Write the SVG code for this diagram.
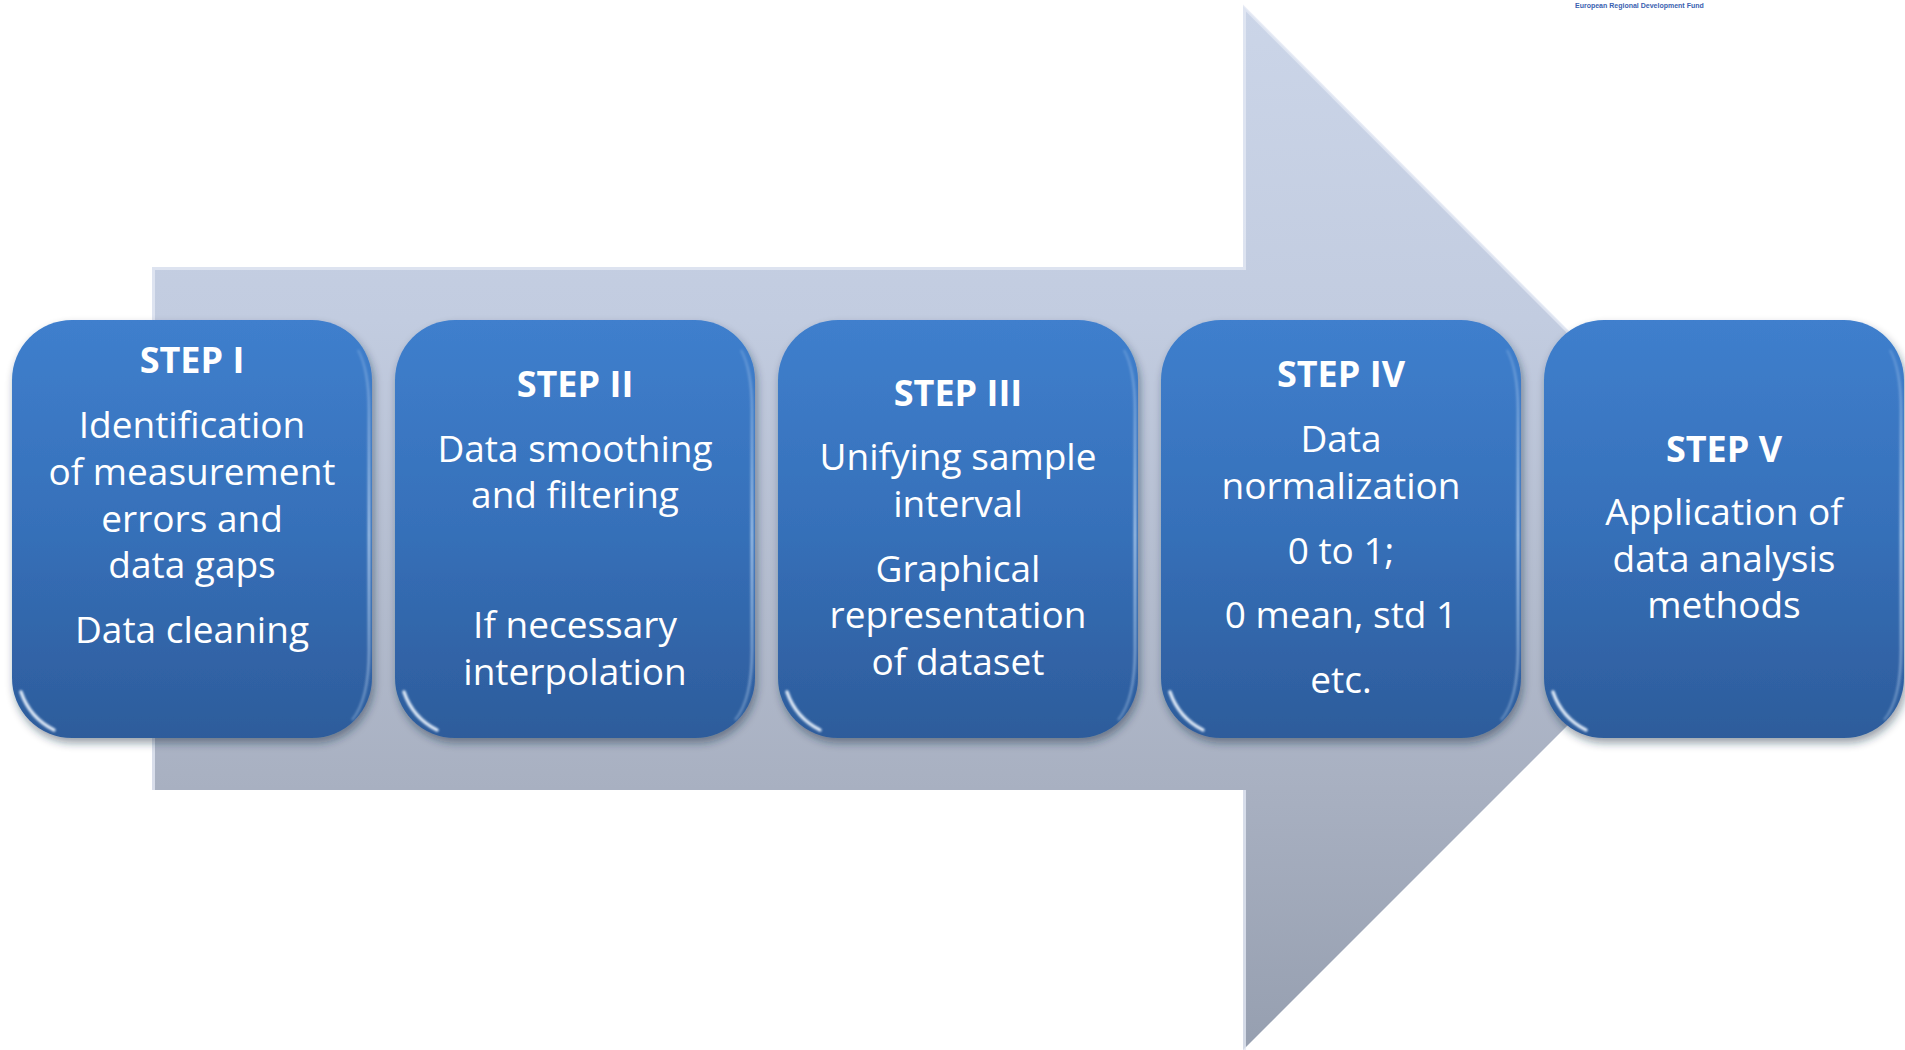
<svg xmlns="http://www.w3.org/2000/svg" width="1905" height="1050" viewBox="0 0 1905 1050">
  <defs>
    <linearGradient id="arrowGrad" gradientUnits="userSpaceOnUse" x1="0" y1="6" x2="0" y2="1050">
      <stop offset="0" stop-color="#cbd5e8"/>
      <stop offset="0.3" stop-color="#c2cce0"/>
      <stop offset="0.75" stop-color="#a8b0c1"/>
      <stop offset="1" stop-color="#969fb0"/>
    </linearGradient>
    <linearGradient id="boxGrad" x1="0" y1="0" x2="0" y2="1">
      <stop offset="0" stop-color="#3f7fcd"/>
      <stop offset="0.5" stop-color="#3670b9"/>
      <stop offset="1" stop-color="#2d5c9b"/>
    </linearGradient>
    <linearGradient id="topHi" x1="0" y1="0" x2="1" y2="0">
      <stop offset="0" stop-color="#a8cbf5" stop-opacity="0"/>
      <stop offset="0.15" stop-color="#a8cbf5" stop-opacity="0.8"/>
      <stop offset="0.85" stop-color="#a8cbf5" stop-opacity="0.8"/>
      <stop offset="1" stop-color="#a8cbf5" stop-opacity="0"/>
    </linearGradient>
    <linearGradient id="rightHi" x1="0" y1="0" x2="0" y2="1">
      <stop offset="0" stop-color="#cfe4fb" stop-opacity="0.2"/>
      <stop offset="0.5" stop-color="#cfe4fb" stop-opacity="0.8"/>
      <stop offset="1" stop-color="#cfe4fb" stop-opacity="0.3"/>
    </linearGradient>
    <filter id="shadow" x="-10%" y="-10%" width="125%" height="125%">
      <feDropShadow dx="2" dy="5" stdDeviation="4" flood-color="#1a2a40" flood-opacity="0.45"/>
    </filter>
    <filter id="soft" x="-20%" y="-20%" width="140%" height="140%">
      <feGaussianBlur stdDeviation="1.2"/>
    </filter>
    <style>
      .box { fill: url(#boxGrad); filter: url(#shadow); }
      .tophi { fill: none; stroke: url(#topHi); stroke-width: 4; filter: url(#soft); }
      .righthi { fill: none; stroke: url(#rightHi); stroke-width: 2.5; filter: url(#soft); }
      .glint { fill: none; stroke: #eef6ff; stroke-width: 3.5; stroke-linecap: round; opacity: 0.9; filter: url(#soft); }
      .title { font-family: "Open Sans", "Liberation Sans", sans-serif; font-weight: bold; font-size: 36px; fill: #ffffff; text-anchor: middle; }
      .body { font-family: "Open Sans", "Liberation Sans", sans-serif; font-size: 37px; fill: #ffffff; text-anchor: middle; }
      .bevel { fill: none; stroke: #e3e9f4; stroke-width: 3; opacity: 0.8; }
      .fund { font-family: "Liberation Sans", Arial, sans-serif; font-size: 7px; font-weight: bold; fill: #3a5fb0; }
    </style>
  </defs>

  <rect width="1905" height="1050" fill="#ffffff"/>

  <text class="fund" x="1575" y="8">European Regional Development Fund</text>

  <g id="connectors">
    <g id="process-arrow">
      <path d="M152,267 L1243,267 L1243,6 L1765,528 L1243,1050 L1243,790 L152,790 Z" fill="url(#arrowGrad)"/>
      <path class="bevel" d="M153.5,790 L153.5,268.5 L1244.5,268.5 L1244.5,8 L1764,528"/>
      <path class="bevel" d="M1244.5,790 L1244.5,1050" opacity="0.5"/>
    </g>
  </g>

  <g id="step1" transform="translate(12,320)">
    <rect class="box" x="0" y="0" width="360" height="418" rx="60" ry="60"/>
    <path class="tophi" d="M40,8 H320"/>
    <path class="righthi" d="M346,30 Q357,50 357,90 V330 Q357,380 340,400"/>
    <path class="glint" d="M9,372 Q18,398 42,410"/>
    <text class="title" x="180" y="53">STEP I</text>
    <text class="body" x="180" y="118">Identification</text>
    <text class="body" x="180" y="165">of measurement</text>
    <text class="body" x="180" y="212">errors and</text>
    <text class="body" x="180" y="258">data gaps</text>
    <text class="body" x="180" y="323">Data cleaning</text>
  </g>

  <g id="step2" transform="translate(395,320)">
    <rect class="box" x="0" y="0" width="360" height="418" rx="60" ry="60"/>
    <path class="tophi" d="M40,8 H320"/>
    <path class="righthi" d="M346,30 Q357,50 357,90 V330 Q357,380 340,400"/>
    <path class="glint" d="M9,372 Q18,398 42,410"/>
    <text class="title" x="180" y="77">STEP II</text>
    <text class="body" x="180" y="142">Data smoothing</text>
    <text class="body" x="180" y="188">and filtering</text>
    <text class="body" x="180" y="318">If necessary</text>
    <text class="body" x="180" y="365">interpolation</text>
  </g>

  <g id="step3" transform="translate(778,320)">
    <rect class="box" x="0" y="0" width="360" height="418" rx="60" ry="60"/>
    <path class="tophi" d="M40,8 H320"/>
    <path class="righthi" d="M346,30 Q357,50 357,90 V330 Q357,380 340,400"/>
    <path class="glint" d="M9,372 Q18,398 42,410"/>
    <text class="title" x="180" y="86">STEP III</text>
    <text class="body" x="180" y="150">Unifying sample</text>
    <text class="body" x="180" y="197">interval</text>
    <text class="body" x="180" y="262">Graphical</text>
    <text class="body" x="180" y="308">representation</text>
    <text class="body" x="180" y="355">of dataset</text>
  </g>

  <g id="step4" transform="translate(1161,320)">
    <rect class="box" x="0" y="0" width="360" height="418" rx="60" ry="60"/>
    <path class="tophi" d="M40,8 H320"/>
    <path class="righthi" d="M346,30 Q357,50 357,90 V330 Q357,380 340,400"/>
    <path class="glint" d="M9,372 Q18,398 42,410"/>
    <text class="title" x="180" y="67">STEP IV</text>
    <text class="body" x="180" y="132">Data</text>
    <text class="body" x="180" y="179">normalization</text>
    <text class="body" x="180" y="244">0 to 1;</text>
    <text class="body" x="180" y="308">0 mean, std 1</text>
    <text class="body" x="180" y="373">etc.</text>
  </g>

  <g id="step5" transform="translate(1544,320)">
    <rect class="box" x="0" y="0" width="360" height="418" rx="60" ry="60"/>
    <path class="tophi" d="M40,8 H320"/>
    <path class="righthi" d="M346,30 Q357,50 357,90 V330 Q357,380 340,400"/>
    <path class="glint" d="M9,372 Q18,398 42,410"/>
    <text class="title" x="180" y="142">STEP V</text>
    <text class="body" x="180" y="205">Application of</text>
    <text class="body" x="180" y="252">data analysis</text>
    <text class="body" x="180" y="298">methods</text>
  </g>
</svg>
